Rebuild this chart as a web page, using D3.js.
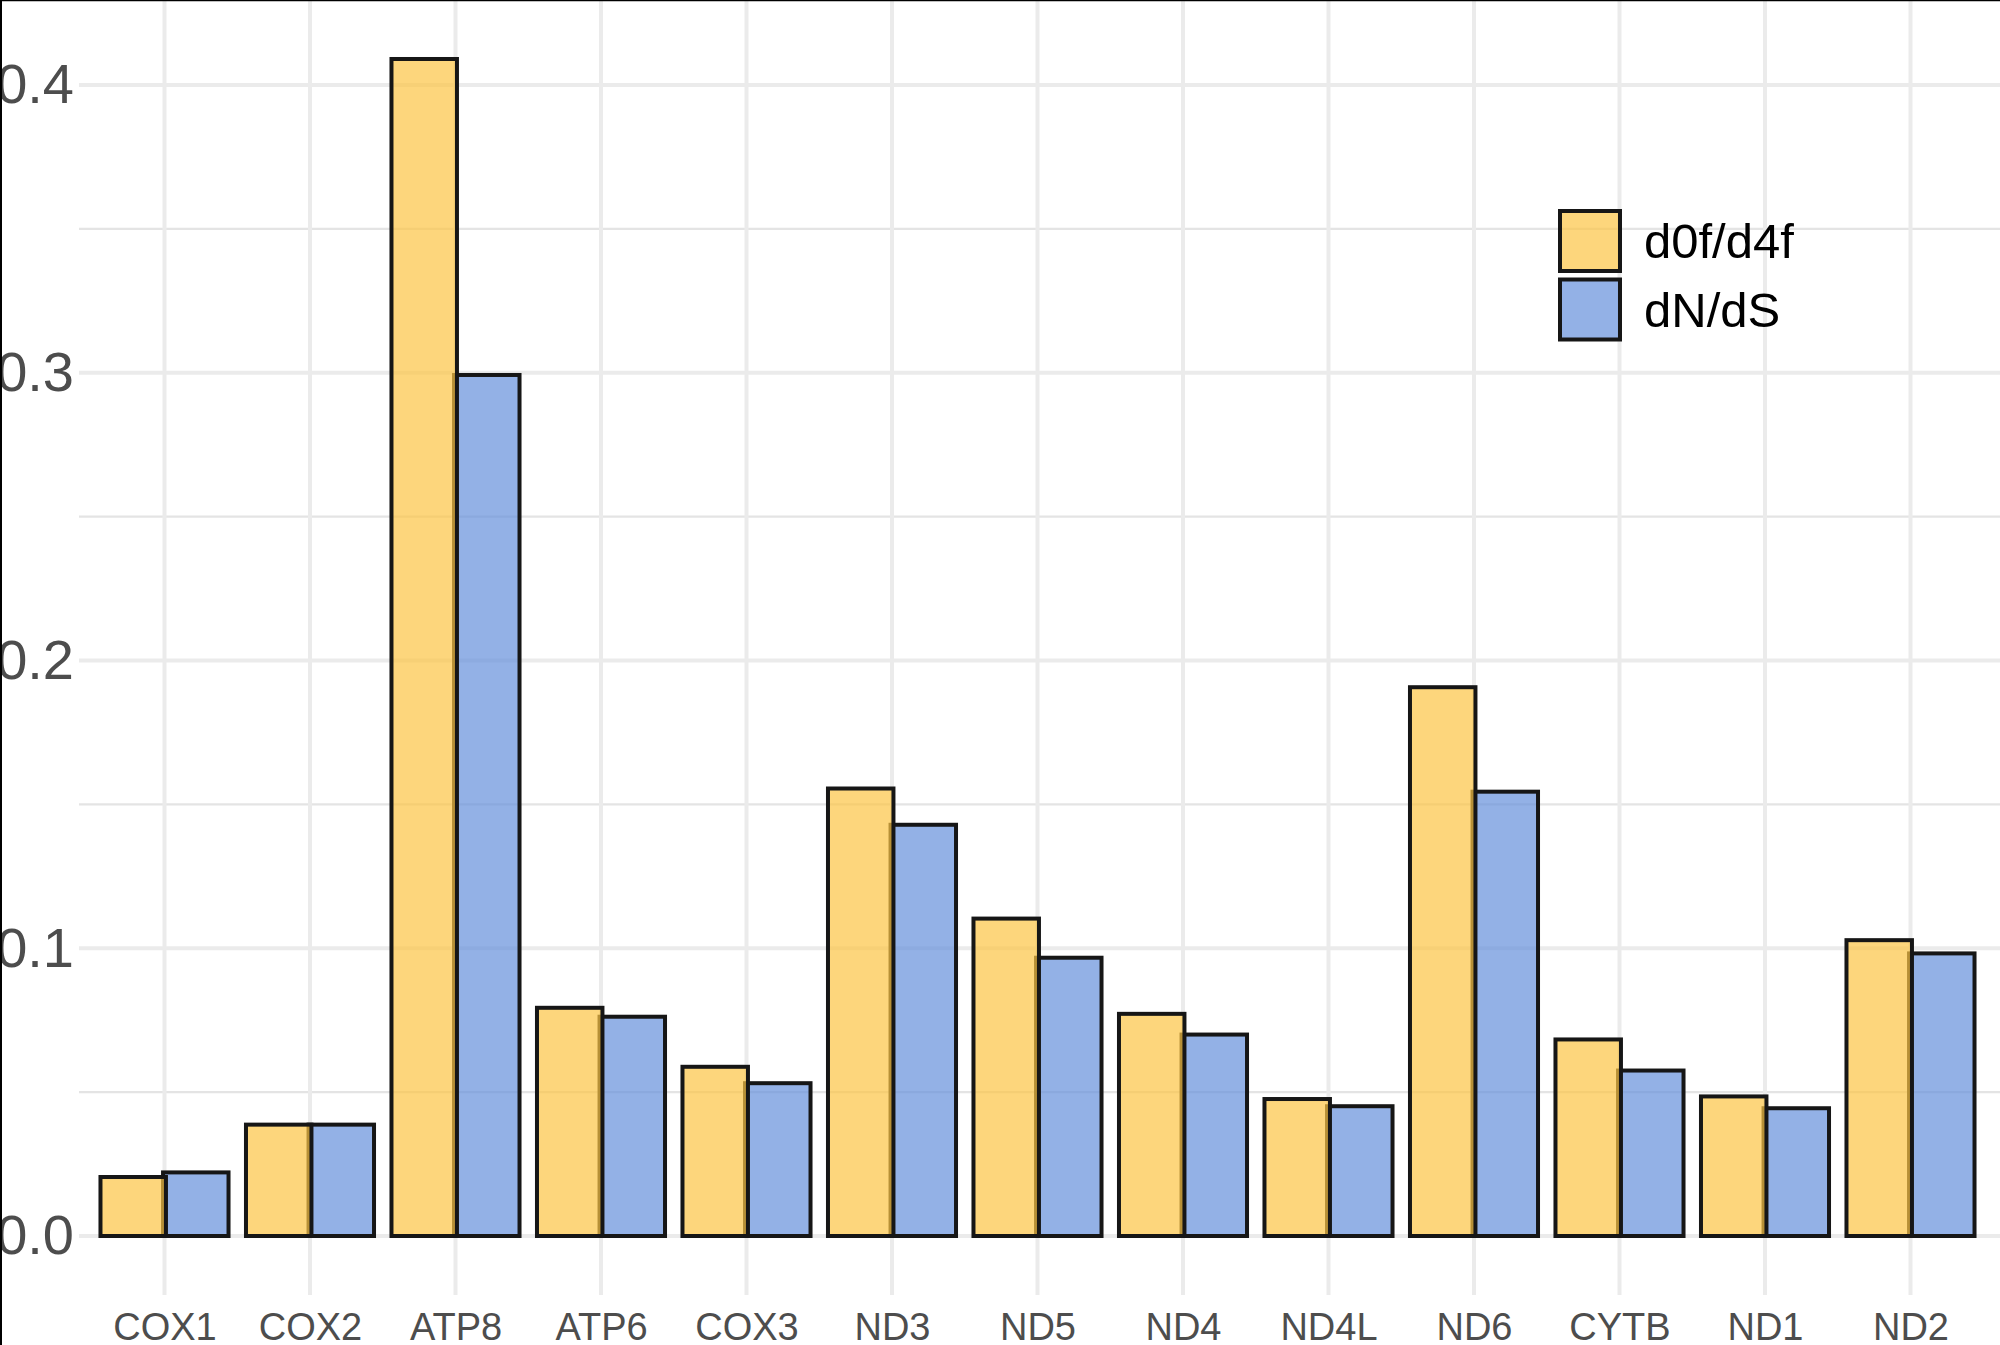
<!DOCTYPE html>
<html>
<head>
<meta charset="utf-8">
<script src="https://cdn.jsdelivr.net/npm/d3@7"></script>
<style>
  body { margin: 0; background: #fff; }
  svg { display: block; font-family: "Liberation Sans", Arial, sans-serif; }
</style>
</head>
<body>
<svg id="chart"></svg>
<script>
// gene order on the x axis
const genes = ["COX1", "COX2", "ATP8", "ATP6", "COX3", "ND3", "ND5", "ND4", "ND4L", "ND6", "CYTB", "ND1", "ND2"];
// ratio values
const d0fd4f = [0.0205, 0.0387, 0.409, 0.0793, 0.0588, 0.1555, 0.1103, 0.0772, 0.0476, 0.1907, 0.0683, 0.0485, 0.1028];
const dNdS   = [0.0221, 0.0387, 0.2992, 0.0762, 0.0531, 0.1429, 0.0967, 0.0700, 0.0451, 0.1544, 0.0575, 0.0444, 0.0982];
const seriesNames = ["d0f/d4f", "dN/dS"];
const yMajor = [0, 0.1, 0.2, 0.3, 0.4];
const yMinor = [0.05, 0.15, 0.25, 0.35];

const width = 2000, height = 1345;
const panel = { left: 79, right: 2000, top: 0, bottom: 1295 };
const colors = ["#FCC445", "#6590DB"];

const svg = d3.select("#chart").attr("width", width).attr("height", height);

const x = d3.scalePoint().domain(genes).range([164.5, 1910.5]);
const step = x.step();
const y = d3.scaleLinear().domain([-0.0205, 0.4295]).range([panel.bottom, panel.top]);

// grid
const grid = svg.append("g");
grid.selectAll(".minor").data(yMinor).join("line").attr("class", "minor")
    .attr("x1", panel.left).attr("x2", panel.right)
    .attr("y1", d => y(d)).attr("y2", d => y(d))
    .attr("stroke", "#E4E4E4").attr("stroke-width", 2.2);
grid.selectAll(".major").data(yMajor).join("line").attr("class", "major")
    .attr("x1", panel.left).attr("x2", panel.right)
    .attr("y1", d => y(d)).attr("y2", d => y(d))
    .attr("stroke", "#EBEBEB").attr("stroke-width", 4);
grid.selectAll(".vgrid").data(genes).join("line").attr("class", "vgrid")
    .attr("x1", d => x(d)).attr("x2", d => x(d))
    .attr("y1", panel.top).attr("y2", panel.bottom)
    .attr("stroke", "#EBEBEB").attr("stroke-width", 4);

// bars: dN/dS drawn first, d0f/d4f on top (slight overlap of the two)
const barW = 0.45 * step;
const dodge = 0.215 * step;
const seriesData = [d0fd4f, dNdS];
const offsets = [-dodge, dodge];

[1, 0].forEach(s => {
    svg.append("g").selectAll("rect")
        .data(genes.map((g, i) => ({ gene: g, value: seriesData[s][i] })))
        .join("rect")
        .attr("x", d => x(d.gene) + offsets[s] - barW / 2)
        .attr("width", barW)
        .attr("y", d => y(d.value))
        .attr("height", d => y(0) - y(d.value))
        .attr("fill", colors[s]).attr("fill-opacity", 0.7)
        .attr("stroke", "#161616").attr("stroke-width", 4);
});

// axes (labels only)
const yAxis = svg.append("g").attr("transform", "translate(74,0)")
    .call(d3.axisLeft(y).tickValues(yMajor).tickFormat(d3.format(".1f")).tickSize(0).tickPadding(0));
yAxis.select(".domain").remove();
yAxis.selectAll("text").attr("font-size", 56).attr("fill", "#4D4D4D")
    .attr("font-family", "Liberation Sans, Arial, sans-serif");

const xAxis = svg.append("g").attr("transform", "translate(0,1313)")
    .call(d3.axisBottom(x).tickSize(0).tickPadding(0));
xAxis.select(".domain").remove();
xAxis.selectAll("text").attr("font-size", 38).attr("fill", "#4D4D4D")
    .attr("font-family", "Liberation Sans, Arial, sans-serif");

// legend
const legend = svg.append("g").attr("transform", "translate(1560,211)");
const key = 60, keyGap = 68.5;
seriesNames.forEach((name, i) => {
    legend.append("rect")
        .attr("x", 0).attr("y", i * keyGap)
        .attr("width", key).attr("height", key)
        .attr("fill", colors[i]).attr("fill-opacity", 0.7)
        .attr("stroke", "#161616").attr("stroke-width", 4);
    legend.append("text")
        .attr("x", 84).attr("y", i * keyGap + key / 2 + 17)
        .attr("font-size", 49).attr("fill", "#000")
        .text(name);
});

// frame edges seen on the top and left
svg.append("line").attr("x1", 0).attr("x2", width).attr("y1", 0.5).attr("y2", 0.5)
    .attr("stroke", "#000").attr("stroke-width", 1.5);
svg.append("line").attr("x1", 1).attr("x2", 1).attr("y1", 0).attr("y2", height)
    .attr("stroke", "#000").attr("stroke-width", 2);
</script>
</body>
</html>
